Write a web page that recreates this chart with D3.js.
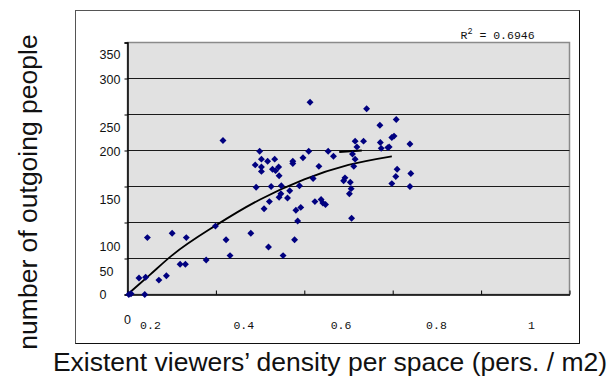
<!DOCTYPE html>
<html>
<head>
<meta charset="utf-8">
<script src="https://cdn.jsdelivr.net/npm/d3@7/dist/d3.min.js"></script>
<style>
  body { margin:0; background:#fff; }
  svg { display:block; }
</style>
</head>
<body>
<div id="chart"></div>
<script>
//DATA
var density = [0.003,0.008,0.039,0.026,0.041,0.045,0.071,0.088,0.101,0.119,0.131,0.133,0.178,0.199,0.216,0.223,0.232,
  0.279,0.289,0.291,0.299,0.303,0.303,0.303,0.309,0.317,0.319,0.321,0.325,0.328,0.333,0.335,0.342,0.343,0.343,0.347,
  0.348,0.352,0.362,0.367,0.374,0.374,0.378,0.381,0.385,0.389,0.392,0.397,0.410,0.413,0.420,0.424,0.433,0.438,0.442,
  0.448,0.454,0.466,0.489,0.492,0.502,0.504,0.506,0.507,0.509,0.512,0.515,0.515,0.519,0.534,0.541,0.571,0.572,0.574,
  0.589,0.592,0.598,0.603,0.608,0.598,0.607,0.610,0.639,0.641,0.639];
var outgoing = [0,1,0,23,24,79,20,26,85,42,42,79,48,95,214,76,54,
  85,180,149,199,188,177,171,119,185,66,129,150,174,188,172,177,165,135,140,
  151,54,134,144,185,182,76,117,102,151,121,190,199,267,161,129,178,132,127,
  125,199,192,158,162,140,156,147,106,195,178,188,213,205,213,258,235,211,203,
  204,205,218,220,243,154,164,174,209,168,150];

var trendX = [0, 0.05, 0.1, 0.2, 0.3, 0.4, 0.5, 0.598];
var trendY = [0, 27, 54, 96, 132, 160, 180, 192];
var stubX = [0.479, 0.530];
var stubY = [198, 200];

var yTicks = [0, 50, 100, 150, 200, 250, 300, 350];
var yLabelAt = [0, 32, 66, 132, 199, 232, 299, 334]; // where each label sits on the scale
var xTicks = [0, 0.2, 0.4, 0.6, 0.8, 1];
var xLabels = ["0.2", "0.4", "0.6", "0.8", "1"];
var xLabelAt = [0.052, 0.263, 0.483, 0.699, 0.914];
var r2Text = "0.6946";

var width = 610;
var height = 381;

var svg = d3.select("#chart").append("svg")
  .attr("width", width)
  .attr("height", height);

svg.append("rect").attr("width", width).attr("height", height).attr("fill", "#fff");

// outer frame
svg.append("rect")
  .attr("x", 75.5).attr("y", 10.5)
  .attr("width", 504).attr("height", 333)
  .attr("fill", "none").attr("stroke", "#555");
svg.append("path").attr("d", "M579.5,10.5V343.5H75.5").attr("fill", "none").attr("stroke", "#111");

var x = d3.scaleLinear().domain([0, 1]).range([127.5, 569.5]);
var y = d3.scaleLinear().domain([0, 350]).range([294.5, 42.5]);

//---PLOT AREA
svg.append("rect")
  .attr("x", x(0)).attr("y", y(350))
  .attr("width", x(1) - x(0)).attr("height", y(0) - y(350))
  .attr("fill", "#e1e1e1")
  .attr("stroke", "#8a8a8a").attr("stroke-width", 1.5);

svg.append("g").selectAll("line")
  .data(yTicks.slice(1, -1))
  .join("line")
  .attr("x1", x(0)).attr("x2", x(1))
  .attr("y1", function(d){ return y(d); })
  .attr("y2", function(d){ return y(d); })
  .attr("stroke", "#1a1a1a").attr("stroke-width", 1);

// axes lines + ticks
var yAxis = svg.append("g")
  .attr("transform", "translate(" + x(0) + ",0)")
  .call(d3.axisLeft(y).tickValues(yTicks).tickSize(3).tickFormat(""));
yAxis.select(".domain").attr("stroke", "#000").attr("stroke-width", 1.5);

var xAxis = svg.append("g")
  .attr("transform", "translate(0," + y(0) + ")")
  .call(d3.axisTop(x).tickValues(xTicks).tickSize(4).tickSizeOuter(0).tickFormat(""));
xAxis.select(".domain").attr("stroke", "#000").attr("stroke-width", 1.5);

// y labels (left aligned, as in the original)
svg.append("g").selectAll("text")
  .data(yTicks)
  .join("text")
  .attr("x", 99.5)
  .attr("y", function(d, i){ return y(yLabelAt[i]); })
  .attr("dy", "0.36em")
  .attr("font-family", "Liberation Sans, Arial, sans-serif")
  .attr("font-size", 12.5)
  .attr("fill", "#111")
  .text(function(d){ return d; });

// x labels
svg.append("text")
  .attr("x", x(0)).attr("y", 323.5)
  .attr("text-anchor", "middle")
  .attr("font-family", "Liberation Sans, Arial, sans-serif")
  .attr("font-size", 12.5).attr("fill", "#111")
  .text("0");
svg.append("g").selectAll("text")
  .data(xLabels)
  .join("text")
  .attr("x", function(d, i){ return x(xLabelAt[i]); })
  .attr("y", 329)
  .attr("text-anchor", "middle")
  .attr("font-family", "Liberation Mono, DejaVu Sans Mono, monospace")
  .attr("font-size", 11.5).attr("fill", "#111")
  .text(function(d){ return d; });

//---TREND
var line = d3.line()
  .x(function(d){ return x(d[0]); })
  .y(function(d){ return y(d[1]); })
  .curve(d3.curveMonotoneX);

svg.append("path")
  .datum(d3.zip(trendX, trendY))
  .attr("d", line)
  .attr("fill", "none").attr("stroke", "#000").attr("stroke-width", 1.8);

svg.append("path")
  .datum(d3.zip(stubX, stubY))
  .attr("d", line)
  .attr("fill", "none").attr("stroke", "#000").attr("stroke-width", 2.2);

//---POINTS
var diamond = d3.symbol().type(d3.symbolSquare).size(24);
svg.append("g").selectAll("path")
  .data(d3.zip(density, outgoing))
  .join("path")
  .attr("d", diamond)
  .attr("transform", function(d){ return "translate(" + x(d[0]) + "," + y(d[1]) + ") rotate(45)"; })
  .attr("fill", "#00007f");

// R squared
var r2 = svg.append("text")
  .attr("x", 460.5).attr("y", 38.5)
  .attr("font-family", "Liberation Mono, DejaVu Sans Mono, monospace")
  .attr("font-size", 11.5).attr("fill", "#111");
r2.append("tspan").text("R");
r2.append("tspan").attr("font-size", 8.5).attr("dy", -4.5).text("2");
r2.append("tspan").attr("dy", 4.5).text(" = " + r2Text);

//---TITLES
svg.append("text")
  .attr("x", 330).attr("y", 371)
  .attr("text-anchor", "middle")
  .attr("font-family", "Liberation Sans, Arial, sans-serif")
  .attr("font-size", 26.5).attr("fill", "#111")
  .text("Existent viewers\u2019 density per space (pers. / m2)");

svg.append("text")
  .attr("transform", "translate(37,192) rotate(-90)")
  .attr("text-anchor", "middle")
  .attr("font-family", "Liberation Sans, Arial, sans-serif")
  .attr("font-size", 26.5).attr("fill", "#111")
  .text("number of outgoing people");
</script>
</body>
</html>
